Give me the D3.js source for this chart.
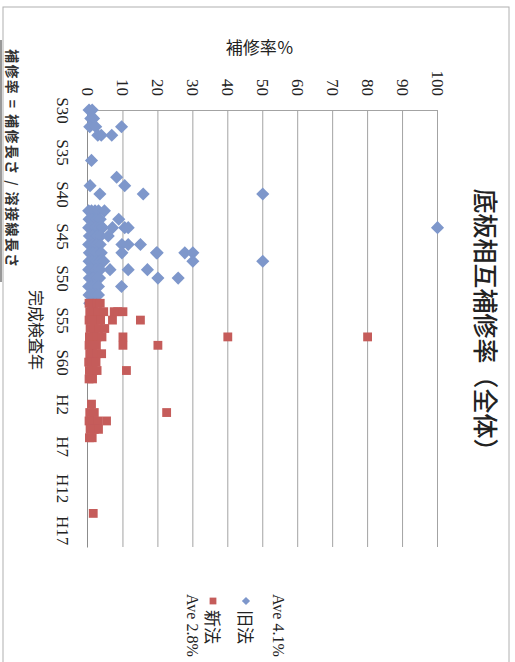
<!DOCTYPE html>
<html>
<head>
<meta charset="utf-8">
<script src="https://cdn.jsdelivr.net/npm/d3@7"></script>
<style>
  body { margin: 0; background: #fff; }
  svg { display: block; }
</style>
</head>
<body>
<svg id="chart" width="515" height="662"></svg>
<script>
// Completion-inspection years, one category per year (S30 = 1955 ... H19 = 2007)
const years = d3.range(1955, 2008);
const tickYears = [1955, 1960, 1965, 1970, 1975, 1980, 1985, 1990, 1995, 2000, 2005];
const tickLabels = ["S30", "S35", "S40", "S45", "S50", "S55", "S60", "H2", "H7", "H12", "H17"];
const rateTicks = [0, 10, 20, 30, 40, 50, 60, 70, 80, 90, 100];

// 旧法 tanks: [inspection year, repair rate %]
const oldLaw = [
  [1955, 0.3], [1955, 1.2], [1956, 0.8], [1956, 1.6],
  [1957, 0.5], [1957, 2.2], [1957, 9.6],
  [1958, 2.8], [1958, 3.8], [1958, 6.8],
  [1961, 1.0], [1963, 8.2], [1964, 0.6], [1964, 10.5],
  [1965, 3.4], [1965, 15.8], [1965, 50],
  [1967, 0.2], [1967, 1.0], [1967, 2.0], [1967, 3.0], [1967, 4.7],
  [1968, 0.3], [1968, 1.2], [1968, 2.4], [1968, 3.5], [1968, 8.8],
  [1969, 0.2], [1969, 1.0], [1969, 2.2], [1969, 3.2], [1969, 4.2], [1969, 7.0], [1969, 10.5], [1969, 11.5], [1969, 100],
  [1970, 0.4], [1970, 1.5], [1970, 2.6], [1970, 3.6], [1970, 5.8],
  [1971, 0.2], [1971, 1.2], [1971, 2.4], [1971, 3.5], [1971, 9.7], [1971, 11.5], [1971, 15.0],
  [1972, 0.4], [1972, 1.4], [1972, 2.5], [1972, 3.8], [1972, 9.7], [1972, 19.6], [1972, 19.8], [1972, 27.7], [1972, 30],
  [1973, 0.3], [1973, 1.2], [1973, 2.4], [1973, 3.4], [1973, 4.5], [1973, 30], [1973, 50],
  [1974, 0.2], [1974, 1.1], [1974, 2.3], [1974, 3.5], [1974, 6.3], [1974, 11.5], [1974, 17.0],
  [1975, 0.4], [1975, 1.4], [1975, 2.5], [1975, 3.3], [1975, 20.0], [1975, 25.8],
  [1976, 0.2], [1976, 1.0], [1976, 2.0], [1976, 3.0], [1976, 9.6],
  [1977, 0.3], [1977, 1.2], [1977, 2.2], [1977, 3.0],
  [1978, 0.5], [1978, 1.5], [1978, 2.2]
];

// 新法 tanks: [inspection year, repair rate %]
const newLaw = [
  [1978, 0.3], [1978, 1.3], [1978, 2.5], [1978, 3.5],
  [1979, 0.5], [1979, 1.6], [1979, 2.8], [1979, 4.5], [1979, 7.5], [1979, 8.5], [1979, 10.0],
  [1980, 0.3], [1980, 1.2], [1980, 2.4], [1980, 3.6], [1980, 7.0], [1980, 15.0],
  [1981, 0.6], [1981, 1.8], [1981, 3.0], [1981, 4.8],
  [1982, 0.4], [1982, 1.5], [1982, 2.6], [1982, 4.0], [1982, 10.0], [1982, 40.0], [1982, 80.0],
  [1983, 0.3], [1983, 1.3], [1983, 2.4], [1983, 10.0], [1983, 20.0],
  [1984, 0.5], [1984, 1.4], [1984, 2.5], [1984, 3.9],
  [1985, 0.2], [1985, 1.2], [1985, 2.3],
  [1986, 0.4], [1986, 1.5], [1986, 2.6], [1986, 11.0],
  [1987, 0.3], [1987, 1.3],
  [1990, 1.0],
  [1991, 0.5], [1991, 1.8], [1991, 22.5],
  [1992, 0.3], [1992, 1.5], [1992, 2.8], [1992, 5.3],
  [1993, 0.6], [1993, 1.8], [1993, 3.0],
  [1994, 0.4], [1994, 1.2],
  [2003, 1.5]
];

const seriesNames = ["旧法", "新法"];
const averages = ["Ave 4.1%", "Ave 2.8%"];

const BLUE = "#7e97cb";
const RED = "#c55c5a";
const GRID = "#a3a3a3";
const SERIF = "'Liberation Serif', 'DejaVu Serif', serif";
const CJK = "'Noto Sans CJK JP', 'Noto Sans', sans-serif";

const svg = d3.select("#chart");

// The sheet is laid out landscape and turned a quarter clockwise onto the page
const g = svg.append("g").attr("transform", "translate(515,0) rotate(90)");

// chart frame
g.append("rect")
  .attr("x", 7).attr("y", 6).attr("width", 700).attr("height", 506)
  .attr("fill", "#fff").attr("stroke", "#b0b0b0").attr("stroke-width", 1);

const plot = { left: 110, right: 547, top: 77.5, bottom: 427 };

const x = d3.scalePoint().domain(years).range([plot.left, plot.right]).padding(0);
const y = d3.scaleLinear().domain([0, 100]).range([plot.bottom, plot.top]);

// horizontal gridlines
g.append("g").selectAll("line")
  .data(rateTicks.filter(d => d > 0))
  .join("line")
  .attr("x1", plot.left).attr("x2", plot.right)
  .attr("y1", d => y(d)).attr("y2", d => y(d))
  .attr("stroke", GRID).attr("stroke-width", 1);

// value axis (left)
const yAxis = g.append("g")
  .attr("transform", `translate(${plot.left},0)`)
  .call(d3.axisLeft(y).tickValues(rateTicks).tickSize(0).tickPadding(14));
yAxis.select(".domain").attr("stroke", GRID);
yAxis.selectAll("text")
  .attr("font-family", SERIF).attr("font-size", 17).attr("fill", "#222");

// category axis (bottom)
const xAxis = g.append("g")
  .attr("transform", `translate(0,${plot.bottom})`)
  .call(d3.axisBottom(x).tickValues(tickYears).tickSize(0).tickPadding(19)
    .tickFormat((d, i) => tickLabels[i]));
xAxis.select(".domain").attr("stroke", "#8c8c8c");
xAxis.selectAll("text")
  .attr("font-family", SERIF).attr("font-size", 17).attr("fill", "#222");

// markers
const diamond = d3.symbol().type(d3.symbolSquare).size(86);
const square = d3.symbol().type(d3.symbolSquare).size(78);

g.append("g").selectAll("path")
  .data(oldLaw)
  .join("path")
  .attr("d", diamond)
  .attr("transform", d => `translate(${x(d[0])},${y(d[1])}) rotate(45)`)
  .attr("fill", BLUE);

g.append("g").selectAll("path")
  .data(newLaw)
  .join("path")
  .attr("d", square)
  .attr("transform", d => `translate(${x(d[0])},${y(d[1])})`)
  .attr("fill", RED);

// title
g.append("text")
  .attr("x", 326).attr("y", 39)
  .attr("text-anchor", "middle")
  .attr("font-family", CJK).attr("font-size", 25).attr("font-weight", 500)
  .attr("fill", "#222")
  .text("底板相互補修率（全体）");

// value axis title
g.append("text")
  .attr("transform", `translate(54,${(plot.top + plot.bottom) / 2 + 3}) rotate(-90)`)
  .attr("text-anchor", "middle")
  .attr("font-family", CJK).attr("font-size", 17)
  .attr("fill", "#222")
  .text("補修率％");

// category axis title
g.append("text")
  .attr("x", 330).attr("y", 485)
  .attr("text-anchor", "middle")
  .attr("font-family", CJK).attr("font-size", 16)
  .attr("fill", "#222")
  .text("完成検査年");

// legend
const legend = g.append("g");
legend.append("text")
  .attr("x", 594).attr("y", 242)
  .attr("font-family", SERIF).attr("font-size", 16).attr("fill", "#222")
  .text(averages[0]);
legend.append("path")
  .attr("d", d3.symbol().type(d3.symbolSquare).size(34))
  .attr("transform", "translate(601,269) rotate(45)")
  .attr("fill", BLUE);
legend.append("text")
  .attr("x", 610).attr("y", 276)
  .attr("font-family", CJK).attr("font-size", 17).attr("fill", "#222")
  .text(seriesNames[0]);
legend.append("path")
  .attr("d", d3.symbol().type(d3.symbolSquare).size(46))
  .attr("transform", "translate(601,302)")
  .attr("fill", RED);
legend.append("text")
  .attr("x", 610).attr("y", 309)
  .attr("font-family", CJK).attr("font-size", 17).attr("fill", "#222")
  .text(seriesNames[1]);
legend.append("text")
  .attr("x", 594).attr("y", 328)
  .attr("font-family", SERIF).attr("font-size", 16).attr("fill", "#222")
  .text(averages[1]);

// definition note, underlined
g.append("text")
  .attr("x", 49).attr("y", 508)
  .attr("font-family", CJK).attr("font-size", 14).attr("font-weight", 700)
  .attr("letter-spacing", 1.4)
  .attr("xml:space", "preserve")
  .style("white-space", "pre")
  .attr("fill", "#333")
  .text("補修率 = 補修長さ / 溶接線長さ");
g.append("line")
  .attr("x1", 40).attr("x2", 282).attr("y1", 514).attr("y2", 514)
  .attr("stroke", "#777").attr("stroke-width", 1.5);
</script>
</body>
</html>
